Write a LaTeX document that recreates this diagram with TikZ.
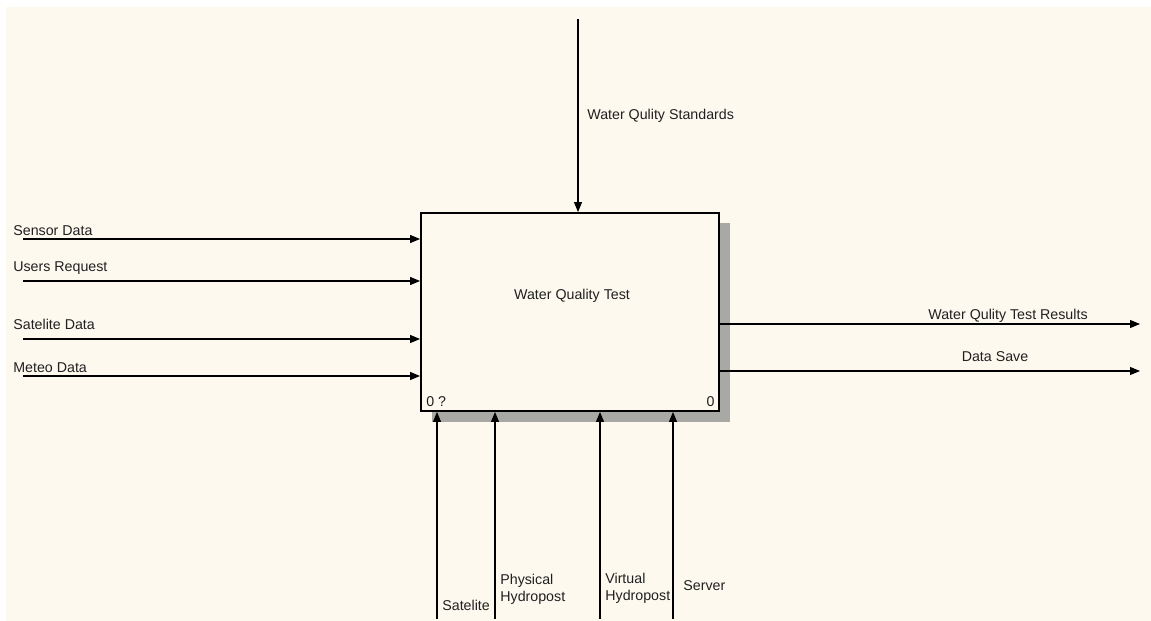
\documentclass[tikz,border=0pt]{standalone}
\usepackage{fontspec}
\setmainfont{Liberation Sans}
\usetikzlibrary{arrows.meta}
\definecolor{idbg}{HTML}{FEF9EF}
\definecolor{idshade}{HTML}{A8A8A4}
\definecolor{idtext}{HTML}{202020}

\begin{document}
\begin{tikzpicture}[
  x=0.02cm, y=-0.02cm,
  fnbox/.style={draw=black, line width=1.1pt, fill=idbg, minimum width=5.96cm, minimum height=3.96cm, inner sep=0pt},
  lbl/.style={text=idtext, font=\fontsize{8.1}{9.5}\selectfont, inner sep=0pt, align=left},
  flow/.style={-{Triangle[length=2mm, width=1.6mm]}, line width=0.6pt, draw=black}
]
\useasboundingbox (0,0) rectangle (1151,621);
\fill[idbg] (6,7) rectangle (1151,621);
% shadow of the activity box
\fill[idshade] (432,223) rectangle (730,422);
\node[fnbox] (wqt) at (570,312) {};
\node[lbl] (wqtname) at (572,295.5) {Water Quality Test};
\node[lbl, anchor=west] (wqtnum) at (426,402) {0 ?};
\node[lbl, anchor=east] (wqtnode) at (715,402) {0};

% inputs
\coordinate (sdin) at (23,239);
\coordinate (urin) at (23,281);
\coordinate (stin) at (23,339);
\coordinate (mdin) at (23,376);
\draw[flow] (sdin) -- (sdin -| wqt.west);
\draw[flow] (urin) -- (urin -| wqt.west);
\draw[flow] (stin) -- (stin -| wqt.west);
\draw[flow] (mdin) -- (mdin -| wqt.west);
\node[lbl, anchor=west] (sdlbl) at (13,230.5) {Sensor Data};
\node[lbl, anchor=west] (urlbl) at (13,268.5) {Users Request};
\node[lbl, anchor=west] (stlbl) at (13,324.5) {Satelite Data};
\node[lbl, anchor=west] (mdlbl) at (13,367.5) {Meteo Data};

% control
\coordinate (stdin) at (578,19);
\draw[flow] (stdin) -- (stdin |- wqt.north);
\node[lbl, anchor=west] (stdlbl) at (587,115.5) {Water Qulity Standards};

% outputs
\coordinate (resout) at (1140,324);
\coordinate (saveout) at (1140,371);
\draw[flow] (resout -| wqt.east) -- (resout);
\draw[flow] (saveout -| wqt.east) -- (saveout);
\node[lbl] (reslbl) at (1008,315.5) {Water Qulity Test Results};
\node[lbl] (savelbl) at (995,356.5) {Data Save};

% mechanisms
\coordinate (satm) at (437,619);
\coordinate (phym) at (495,619);
\coordinate (virm) at (600,619);
\coordinate (serm) at (673,619);
\draw[flow] (satm) -- (satm |- wqt.south);
\draw[flow] (phym) -- (phym |- wqt.south);
\draw[flow] (virm) -- (virm |- wqt.south);
\draw[flow] (serm) -- (serm |- wqt.south);
\node[lbl, anchor=west] (satlbl) at (442,605) {Satelite};
\node[lbl, anchor=west] (phylbl) at (500,589) {Physical\\Hydropost};
\node[lbl, anchor=west] (virlbl) at (605,588) {Virtual\\Hydropost};
\node[lbl, anchor=west] (serlbl) at (683,585.5) {Server};
\end{tikzpicture}
\end{document}
